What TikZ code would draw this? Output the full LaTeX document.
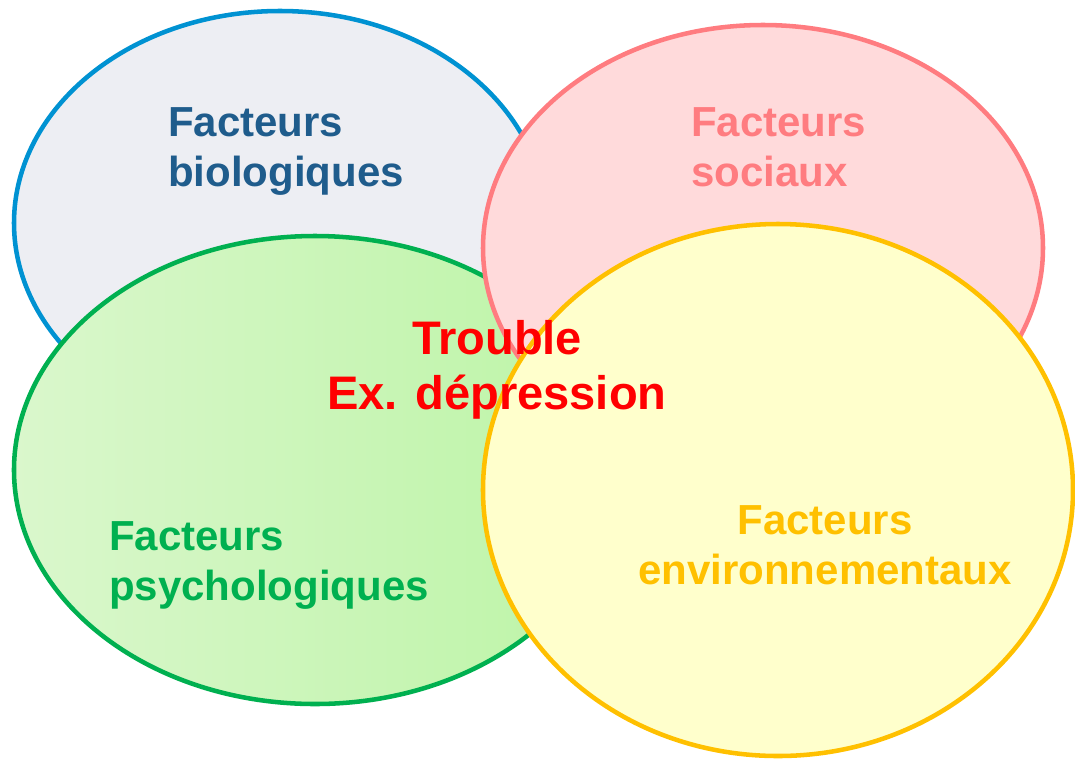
\documentclass[tikz,border=0pt]{standalone}
\usepackage{fontspec}
\setmainfont{Liberation Sans}
\usetikzlibrary{shapes.geometric}

\definecolor{bioline}{HTML}{0092D2}
\definecolor{biofill}{HTML}{EDEEF3}
\definecolor{bioink}{HTML}{1F5C8C}
\definecolor{socline}{HTML}{FF7C80}
\definecolor{socfill}{HTML}{FFDADB}
\definecolor{psyline}{HTML}{00B050}
\definecolor{psyfillA}{HTML}{DAF7CC}
\definecolor{psyfillB}{HTML}{BCF4A6}
\definecolor{envline}{HTML}{FFC000}
\definecolor{envfill}{HTML}{FFFFCC}
\definecolor{troubleink}{HTML}{FF0000}

\begin{document}
\begin{tikzpicture}
[x=0.75pt,y=-0.75pt,
  blobdecorate/.style={shape=ellipse,inner sep=0pt,line width=3.4pt},%
  labeldecorate/.style={font=\fontsize{31.5}{37.5}\selectfont\bfseries,inner sep=0pt},%
  troubledecorate/.style={font=\fontsize{35.3}{41.5}\selectfont\bfseries,inner sep=0pt,
    align=center,text=troubleink}]
\useasboundingbox (0,0) rectangle (1075,758);
%% ellipses, back to front
\node (bio) at (280,223) [blobdecorate,draw=bioline,fill=biofill,
  minimum width=399pt,minimum height=318pt] {};
\node (psy) at (315,470) [blobdecorate,draw=psyline,left color=psyfillA,right color=psyfillB,
  minimum width=451.5pt,minimum height=351pt] {};
\node (soc) at (763,248) [blobdecorate,draw=socline,fill=socfill,
  minimum width=420pt,minimum height=334.5pt] {};
\node (env) at (778,490) [blobdecorate,draw=envline,fill=envfill,
  minimum width=442.5pt,minimum height=399pt] {};
%% labels
\node (biolabel) at (168,151) [labeldecorate,anchor=west,align=left,text=bioink]
  {Facteurs\\biologiques};
\node (soclabel) at (691,147) [labeldecorate,anchor=west,align=left,text=socline]
  {Facteurs\\sociaux};
\node (psylabel) at (109,565) [labeldecorate,anchor=west,align=left,text=psyline]
  {Facteurs\\psychologiques};
\node (envlabel) at (825,545) [labeldecorate,align=center,text=envline]
  {Facteurs\\environnementaux};
\node (trouble) at (497,370) [troubledecorate] {Trouble\\Ex. dépression};
\end{tikzpicture}
\end{document}
